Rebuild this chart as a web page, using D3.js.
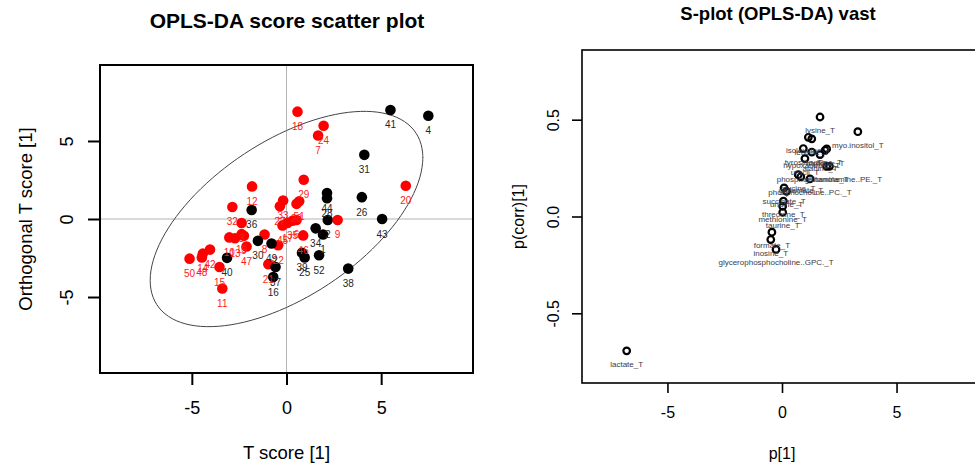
<!DOCTYPE html>
<html>
<head>
<meta charset="utf-8">
<script src="https://cdn.jsdelivr.net/npm/d3@7"></script>
<style>
  body { margin: 0; background: #fff; }
  text { font-family: "Liberation Sans", Arial, sans-serif; }
</style>
</head>
<body>
<script>
// score plot data (sample id, t score, orthogonal score, class)
const sampleId = [1,2,3,4,5,6,7,8,9,10,11,12,13,14,15,16,17,18,19,20,21,22,23,24,25,26,
  27,28,29,30,31,32,33,34,35,36,37,38,39,40,41,42,43,44,45,46,47,48,49,50,51,52];
const tScore = [1.93,2.18,-2.37,7.49,-2.25,0.53,1.67,-1.16,2.70,-3.02,-3.39,-1.82,-2.72,-4.42,-3.54,-0.70,
  0.05,0.58,-2.37,6.30,-0.96,-0.44,0.53,1.96,0.96,3.98,-0.35,2.14,0.91,-1.51,4.11,-2.86,-0.18,1.54,
  0.32,-1.84,-0.58,3.26,0.82,-3.14,5.49,-4.04,5.05,2.14,-0.21,0.88,-2.11,-4.47,-0.79,-5.12,0.67,1.72];
const orthoScore = [-0.99,-0.06,-0.26,6.62,-1.08,-0.06,5.35,-0.99,-0.06,-1.18,-4.45,2.09,-1.23,-2.22,-3.08,-3.72,
  -0.26,6.88,-0.97,2.13,-2.90,-1.68,0.97,5.98,-2.47,1.40,0.82,1.33,2.52,-1.40,4.11,0.77,1.18,-0.60,
  -0.11,0.58,-3.08,-3.18,-2.17,-2.49,6.99,-1.96,0.00,1.66,-0.41,-1.05,-1.76,-2.47,-1.57,-2.54,1.14,-2.32];
const sampleClass = ["B","B","A","B","A","A","A","A","A","A","A","A","A","A","A","B","A","A","A","A","A","A","A","A","B","B",
  "A","B","A","B","B","A","A","B","A","B","B","B","B","B","B","A","B","B","A","A","A","A","B","A","A","B"];
const classNames = ["A", "B"];
const classColors = ["#ff0000", "#000000"];

// hotelling ellipse (t, orthogonal radius and correlation)
const ellipseRadiusT = 7.2;
const ellipseRadiusO = 6.9;
const ellipseCorr = 0.57;

// S-plot data
const metabolite = ["lysine_T","myo.inositol_T","isoleucine_T","leucine_T","valine_T","tyrosine_T","histidine_T",
  "hypoxanthine_T","alanine_T","uracil_T","phosphoethanolamine..PE._T","glutamine_T","glycine_T","glutamate_T",
  "phosphocholine..PC._T","succinate_T","uridine_T","threonine_T","methionine_T","taurine_T","formate_T",
  "inosine_T","glycerophosphocholine..GPC._T","lactate_T"];
const pLoad = [1.66,3.31,1.15,1.30,1.95,0.93,1.88,1.30,1.66,1.00,2.07,1.95,0.71,0.82,1.22,0.09,0.20,0.06,0.03,0.03,
  -0.44,-0.49,-0.26,-6.78];
const pCorr = [0.514,0.438,0.409,0.401,0.349,0.351,0.342,0.333,0.320,0.299,0.259,0.259,0.216,0.205,0.194,0.148,
  0.130,0.079,0.053,0.022,-0.081,-0.119,-0.170,-0.694];

const xTicksL = [-5, 0, 5];
const yTicksL = [-5, 0, 5];
const xTicksR = [-5, 0, 5];
const yTicksR = [-0.5, 0.0, 0.5];

const width = 975, height = 463;
const svg = d3.select('body').append('svg')
  .attr('width', width)
  .attr('height', height);

svg.append('rect').attr('width', width).attr('height', height).attr('fill', '#fff');

// ---------- left: score scatter plot ----------
const boxL = {left: 100, right: 473, top: 65, bottom: 373};
const xL = d3.scaleLinear().domain([-9.85, 9.85]).range([boxL.left, boxL.right]);
const yL = d3.scaleLinear().domain([-9.87, 9.87]).range([boxL.bottom, boxL.top]);
const color = d3.scaleOrdinal().domain(classNames).range(classColors);

const gL = svg.append('g');

gL.append('line')
  .attr('x1', xL(0)).attr('x2', xL(0))
  .attr('y1', boxL.top).attr('y2', boxL.bottom)
  .attr('stroke', '#b4b4b4').attr('stroke-width', 1);
gL.append('line')
  .attr('x1', boxL.left).attr('x2', boxL.right)
  .attr('y1', yL(0)).attr('y2', yL(0))
  .attr('stroke', '#b4b4b4').attr('stroke-width', 1);

const phase = Math.acos(ellipseCorr);
const ellipsePts = d3.range(0, 361, 3).map(a => {
  const t = a * Math.PI / 180;
  return [ellipseRadiusT * Math.cos(t), ellipseRadiusO * Math.cos(t - phase)];
});
gL.append('path')
  .datum(ellipsePts)
  .attr('d', d3.line().x(d => xL(d[0])).y(d => yL(d[1])).curve(d3.curveCardinalClosed))
  .attr('fill', 'none')
  .attr('stroke', '#444')
  .attr('stroke-width', 1);

gL.append('circle').attr('cx', xL(0)).attr('cy', yL(0)).attr('r', 1.6).attr('fill', '#000');

const samples = sampleId.map((id, i) => ({id, t: tScore[i], o: orthoScore[i], cls: sampleClass[i]}));

gL.selectAll('circle.pt').data(samples).join('circle')
  .attr('class', 'pt')
  .attr('cx', d => xL(d.t))
  .attr('cy', d => yL(d.o))
  .attr('r', 5.3)
  .attr('fill', d => color(d.cls));

gL.selectAll('text.lab').data(samples).join('text')
  .attr('class', 'lab')
  .attr('x', d => xL(d.t))
  .attr('y', d => yL(d.o) + 15)
  .attr('dominant-baseline', 'central')
  .attr('text-anchor', 'middle')
  .attr('font-size', 10)
  .attr('fill', d => d.cls === 'A' ? '#ff1a1a' : '#262626')
  .text(d => d.id);

gL.append('rect')
  .attr('x', boxL.left).attr('y', boxL.top)
  .attr('width', boxL.right - boxL.left).attr('height', boxL.bottom - boxL.top)
  .attr('fill', 'none').attr('stroke', '#000').attr('stroke-width', 2);

gL.append('g')
  .attr('transform', `translate(0,${boxL.bottom})`)
  .call(d3.axisBottom(xL).tickValues(xTicksL).tickSize(12).tickPadding(16).tickFormat(d => String(d)))
  .call(g => g.select('.domain').remove())
  .call(g => g.selectAll('line').attr('stroke-width', 2))
  .call(g => g.selectAll('text').attr('font-size', 18).attr('fill', '#000')
    .attr('font-family', '"Liberation Sans", Arial, sans-serif'));

gL.append('g')
  .attr('transform', `translate(${boxL.left},0)`)
  .call(d3.axisLeft(yL).tickValues(yTicksL).tickSize(12).tickPadding(0).tickFormat(d => String(d)))
  .call(g => g.select('.domain').remove())
  .call(g => g.selectAll('line').attr('stroke-width', 2))
  .call(g => g.selectAll('text')
    .attr('font-size', 18).attr('fill', '#000')
    .attr('font-family', '"Liberation Sans", Arial, sans-serif')
    .attr('text-anchor', 'middle').attr('x', 0).attr('dy', 0)
    .attr('transform', 'translate(-33,0) rotate(-90)')
    .attr('dominant-baseline', 'central'));

svg.append('text')
  .attr('x', 287).attr('y', 28)
  .attr('text-anchor', 'middle').attr('font-size', 21).attr('font-weight', 'bold')
  .text('OPLS-DA score scatter plot');
svg.append('text')
  .attr('x', xL(0)).attr('y', 452)
  .attr('text-anchor', 'middle').attr('dominant-baseline', 'central').attr('font-size', 18.5)
  .text('T score [1]');
svg.append('text')
  .attr('transform', `translate(25,${yL(0)}) rotate(-90)`)
  .attr('text-anchor', 'middle').attr('dominant-baseline', 'central').attr('font-size', 18.5)
  .text('Orthogonal T score [1]');

// ---------- right: S-plot ----------
const boxR = {left: 582, right: 982, top: 50, bottom: 383};
const xR = d3.scaleLinear().domain([-8.73, 8.73]).range([boxR.left, boxR.right]);
const yR = d3.scaleLinear().domain([-0.86, 0.86]).range([boxR.bottom, boxR.top]);

const gR = svg.append('g');
const loads = metabolite.map((m, i) => ({m, p: pLoad[i], c: pCorr[i]}));

gR.selectAll('circle').data(loads).join('circle')
  .attr('cx', d => xR(d.p))
  .attr('cy', d => yR(d.c))
  .attr('r', 3.3)
  .attr('fill', 'none')
  .attr('stroke', '#000')
  .attr('stroke-width', 2.2);

gR.selectAll('text.lab').data(loads).join('text')
  .attr('class', 'lab')
  .attr('x', d => xR(d.p))
  .attr('y', d => yR(d.c) + 13.5)
  .attr('dominant-baseline', 'central')
  .attr('text-anchor', 'middle')
  .attr('font-size', 8)
  .attr('fill', '#3a3a48')
  .text(d => d.m);

gR.append('rect')
  .attr('x', boxR.left).attr('y', boxR.top)
  .attr('width', boxR.right - boxR.left).attr('height', boxR.bottom - boxR.top)
  .attr('fill', 'none').attr('stroke', '#000').attr('stroke-width', 1.6);

gR.append('g')
  .attr('transform', `translate(0,${boxR.bottom})`)
  .call(d3.axisBottom(xR).tickValues(xTicksR).tickSize(10).tickPadding(14).tickFormat(d => String(d)))
  .call(g => g.select('.domain').remove())
  .call(g => g.selectAll('line').attr('stroke-width', 1.6))
  .call(g => g.selectAll('text').attr('font-size', 16).attr('fill', '#000')
    .attr('font-family', '"Liberation Sans", Arial, sans-serif'));

gR.append('g')
  .attr('transform', `translate(${boxR.left},0)`)
  .call(d3.axisLeft(yR).tickValues(yTicksR).tickSize(10).tickPadding(0).tickFormat(d => d.toFixed(1)))
  .call(g => g.select('.domain').remove())
  .call(g => g.selectAll('line').attr('stroke-width', 1.6))
  .call(g => g.selectAll('text')
    .attr('font-size', 16).attr('fill', '#000')
    .attr('font-family', '"Liberation Sans", Arial, sans-serif')
    .attr('text-anchor', 'middle').attr('x', 0).attr('dy', 0)
    .attr('transform', 'translate(-29,0) rotate(-90)')
    .attr('dominant-baseline', 'central'));

svg.append('text')
  .attr('x', 778).attr('y', 20)
  .attr('text-anchor', 'middle').attr('font-size', 18.5).attr('font-weight', 'bold')
  .text('S-plot (OPLS-DA) vast');
svg.append('text')
  .attr('x', xR(0)).attr('y', 453)
  .attr('text-anchor', 'middle').attr('dominant-baseline', 'central').attr('font-size', 16)
  .text('p[1]');
svg.append('text')
  .attr('transform', `translate(518,${yR(0)}) rotate(-90)`)
  .attr('text-anchor', 'middle').attr('dominant-baseline', 'central').attr('font-size', 16)
  .text('p(corr)[1]');
</script>
</body>
</html>
